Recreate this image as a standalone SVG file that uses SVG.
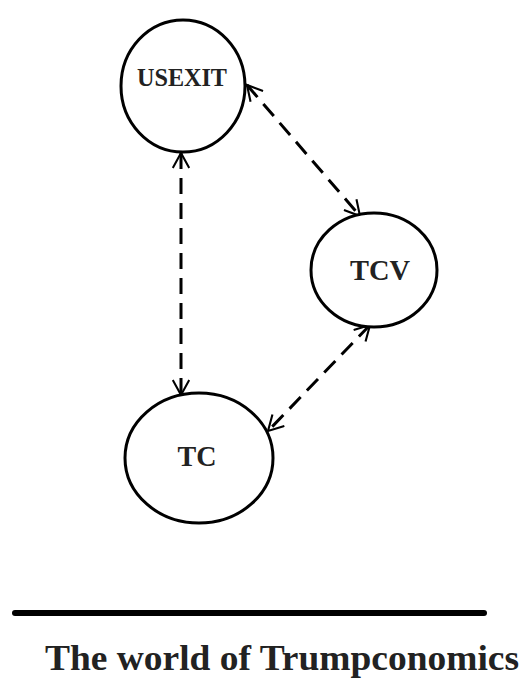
<svg xmlns="http://www.w3.org/2000/svg" width="523" height="681" viewBox="0 0 523 681">
<style>
.node{fill:#fff;stroke:#000;stroke-width:3}
.lbl{font-family:"Liberation Serif","Times New Roman",serif;font-weight:bold;fill:#222;text-anchor:middle}
.conn{stroke:#000;stroke-width:3;fill:none;stroke-dasharray:16 9}
</style>
<defs>
<marker id="arr" viewBox="0 0 12 12" refX="11" refY="6" markerWidth="6" markerHeight="6" orient="auto-start-reverse" markerUnits="strokeWidth">
<path d="M1,0.5 L11,6 L1,11.5" fill="none" stroke="#000" stroke-width="1.4"/>
</marker>
</defs>
<rect width="523" height="681" fill="#fff"/>
<g id="connectors">
<path class="conn" d="M181,153 L181,395" marker-start="url(#arr)" marker-end="url(#arr)"/>
<path class="conn" d="M247,85 L360,216" marker-start="url(#arr)" marker-end="url(#arr)"/>
<path class="conn" d="M370,325 L268,431" marker-start="url(#arr)" marker-end="url(#arr)"/>
</g>
<g id="usexit">
<ellipse class="node" cx="183" cy="86" rx="62" ry="66"/>
<text class="lbl" x="182" y="86" font-size="26" textLength="90" lengthAdjust="spacingAndGlyphs">USEXIT</text>
</g>
<g id="tcv">
<ellipse class="node" cx="374" cy="270" rx="63" ry="57"/>
<text class="lbl" x="380" y="280" font-size="30" textLength="60" lengthAdjust="spacingAndGlyphs">TCV</text>
</g>
<g id="tc">
<ellipse class="node" cx="199" cy="458" rx="74" ry="65"/>
<text class="lbl" x="197" y="466" font-size="30" textLength="39" lengthAdjust="spacingAndGlyphs">TC</text>
</g>
<line x1="15" y1="613" x2="484" y2="613" stroke="#000" stroke-width="6" stroke-linecap="round"/>
<text class="lbl" x="282" y="670" font-size="36" fill="#111" textLength="474" lengthAdjust="spacingAndGlyphs">The world of Trumpconomics</text>
</svg>
